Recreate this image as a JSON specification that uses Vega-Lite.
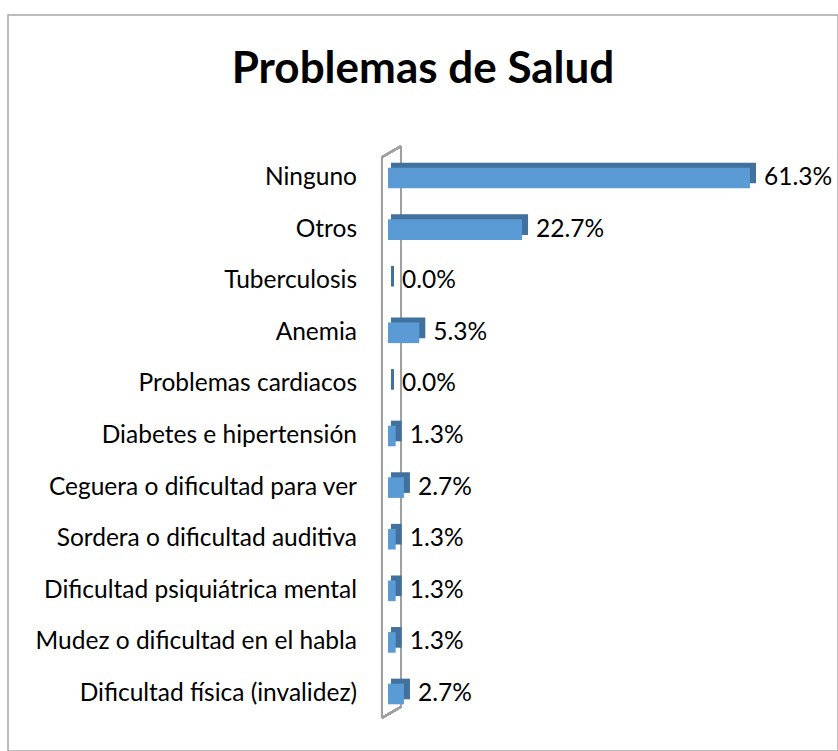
{
  "$schema": "https://vega.github.io/schema/vega-lite/v6.json",
  "width": 830,
  "height": 736,
  "autosize": {"type": "none"},
  "padding": {"left": 8, "top": 15, "right": 0, "bottom": 0},
  "background": "white",
  "title": {"text": "Problemas de Salud", "font": "Lato", "fontSize": 44, "fontWeight": "bold", "color": "#000000", "anchor": "middle", "offset": -77},
  "config": {"view": {"stroke": "#a6a6a6", "strokeWidth": 1.5}},
  "data": {"values": [
    {"cat": "Ninguno", "pct": 0.613},
    {"cat": "Otros", "pct": 0.227},
    {"cat": "Tuberculosis", "pct": 0.0},
    {"cat": "Anemia", "pct": 0.053},
    {"cat": "Problemas cardiacos", "pct": 0.0},
    {"cat": "Diabetes e hipertensión", "pct": 0.013},
    {"cat": "Ceguera o dificultad para ver", "pct": 0.027},
    {"cat": "Sordera o dificultad auditiva", "pct": 0.013},
    {"cat": "Dificultad psiquiátrica mental", "pct": 0.013},
    {"cat": "Mudez o dificultad en el habla", "pct": 0.013},
    {"cat": "Dificultad física (invalidez)", "pct": 0.027}
  ]},
  "encoding": {
    "y": {"field": "cat", "type": "nominal", "sort": null, "axis": null,
          "scale": {"domain": ["Ninguno", "Otros", "Tuberculosis", "Anemia", "Problemas cardiacos", "Diabetes e hipertensión", "Ceguera o dificultad para ver", "Sordera o dificultad auditiva", "Dificultad psiquiátrica mental", "Mudez o dificultad en el habla", "Dificultad física (invalidez)"],
                    "range": [152.7, 689.3], "paddingInner": 0.6, "paddingOuter": 0}}
  },
  "layer": [
    {
      "mark": {"type": "rule", "color": "#a0a0a0", "strokeWidth": 2, "yOffset": -21, "y2Offset": 24},
      "encoding": {
        "x": {"datum": -0.0102, "type": "quantitative", "scale": {"domain": [-0.6435, 0.762], "nice": false, "zero": false}, "axis": null},
        "y": {"datum": "Ninguno", "type": "nominal"},
        "y2": {"datum": "Dificultad física (invalidez)"}
      }
    },
    {
      "mark": {"type": "rule", "color": "#a0a0a0", "strokeWidth": 2, "yOffset": -32, "y2Offset": 13},
      "encoding": {
        "x": {"datum": 0.022, "type": "quantitative"},
        "y": {"datum": "Ninguno", "type": "nominal"},
        "y2": {"datum": "Dificultad física (invalidez)"}
      }
    },
    {
      "mark": {"type": "rule", "color": "#a0a0a0", "strokeWidth": 2, "yOffset": -21, "y2Offset": -32},
      "encoding": {
        "x": {"datum": -0.0102, "type": "quantitative"},
        "x2": {"datum": 0.022},
        "y": {"datum": "Ninguno", "type": "nominal"},
        "y2": {"datum": "Ninguno"}
      }
    },
    {
      "mark": {"type": "rule", "color": "#a0a0a0", "strokeWidth": 2, "yOffset": 13, "y2Offset": 24},
      "encoding": {
        "x": {"datum": 0.022, "type": "quantitative"},
        "x2": {"datum": -0.0102},
        "y": {"datum": "Dificultad física (invalidez)", "type": "nominal"},
        "y2": {"datum": "Dificultad física (invalidez)"}
      }
    },
    {
      "mark": {"type": "bar", "color": "#41719C", "xOffset": 6, "x2Offset": 3, "yOffset": -5, "y2Offset": -5},
      "encoding": {"x": {"field": "pct", "type": "quantitative"}, "x2": {"datum": 0}}
    },
    {
      "mark": {"type": "bar", "color": "#5B9BD5"},
      "encoding": {"x": {"field": "pct", "type": "quantitative"}}
    },
    {
      "mark": {"type": "text", "align": "left", "baseline": "middle", "dx": 14, "font": "Lato", "fontSize": 24.5, "color": "#000000"},
      "encoding": {
        "x": {"field": "pct", "type": "quantitative"},
        "text": {"field": "pct", "type": "quantitative", "format": ".1%"}
      }
    },
    {
      "mark": {"type": "text", "align": "right", "baseline": "middle", "dx": -31, "font": "Lato", "fontSize": 24.5, "color": "#000000"},
      "encoding": {
        "x": {"datum": 0, "type": "quantitative"},
        "text": {"field": "cat", "type": "nominal"}
      }
    }
  ]
}
